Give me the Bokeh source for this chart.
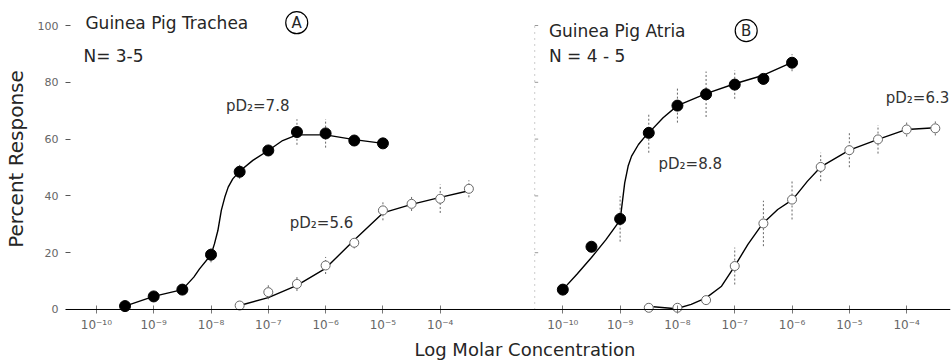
from bokeh.plotting import figure
from bokeh.models import Range1d, FixedTicker, CustomJSTickFormatter, Label, Span, Title
from bokeh.embed import file_html
from bokeh.resources import INLINE

# ---------------- data (log molar concentration, percent response) ----------------
decades = [-10, -9, -8, -7, -6, -5, -4]
y_ticks = [0, 20, 40, 60, 80, 100]

# Panel A: Guinea Pig Trachea
a1_x = [-9.5, -9.0, -8.5, -8.0, -7.5, -7.0, -6.5, -6.0, -5.5, -5.0]
a1_y = [1.2, 4.6, 7.0, 19.3, 48.5, 56.0, 62.5, 62.0, 59.5, 58.5]
a1_err = [0.5, 1.0, 1.5, 2.7, 2.5, 1.5, 4.5, 5.0, 1.5, 1.0]
a1_curve_x = [-9.5, -9.0, -8.5, -8.3, -8.2, -8.0, -7.94, -7.88, -7.82, -7.76, -7.7, -7.62, -7.5, -7.27, -7.0, -6.75, -6.5, -6.0, -5.5, -5.0]
a1_curve_y = [1.2, 4.6, 7.0, 11.4, 14.3, 19.3, 23.1, 27.8, 34.9, 39.5, 43.1, 46.0, 48.7, 52.5, 56.0, 59.5, 61.5, 61.5, 59.8, 58.5]

a2_x = [-7.5, -7.0, -6.5, -6.0, -5.5, -5.0, -4.5, -4.0, -3.5]
a2_y = [1.4, 6.1, 9.0, 15.5, 23.5, 34.9, 37.2, 39.0, 42.5]
a2_err = [0.5, 2.5, 2.5, 3.0, 2.0, 3.5, 2.5, 5.0, 3.0]
a2_curve_x = [-7.5, -7.0, -6.5, -6.0, -5.5, -5.0, -4.5, -4.0, -3.5]
a2_curve_y = [1.4, 4.2, 8.5, 14.5, 24.5, 34.0, 37.0, 39.5, 41.8]

# Panel B: Guinea Pig Atria
b1_x = [-10.0, -9.5, -9.0, -8.5, -8.0, -7.5, -7.0, -6.5, -6.0]
b1_y = [7.0, 22.1, 31.9, 62.2, 71.8, 75.8, 79.2, 81.2, 86.9]
b1_err = [2.0, 2.0, 8.0, 7.0, 6.0, 8.0, 5.0, 2.0, 3.0]
b1_curve_x = [-10.0, -9.75, -9.5, -9.25, -9.0, -8.96, -8.92, -8.86, -8.8, -8.68, -8.57, -8.5, -8.25, -8.0, -7.5, -7.0, -6.5, -6.0]
b1_curve_y = [7.0, 12.5, 18.3, 24.5, 31.5, 38.0, 44.6, 50.5, 54.0, 58.1, 60.8, 62.2, 67.5, 71.8, 76.0, 79.5, 82.5, 87.0]

b2_x = [-8.5, -8.0, -7.5, -7.0, -6.5, -6.0, -5.5, -5.0, -4.5, -4.0, -3.5]
b2_y = [0.6, 0.6, 3.3, 15.3, 30.3, 38.7, 50.2, 56.1, 59.9, 63.4, 63.8]
b2_err = [0.5, 0.5, 1.0, 6.5, 8.0, 7.0, 5.0, 6.0, 5.0, 2.5, 2.5]
b2_curve_x = [-8.42, -8.02, -7.76, -7.5, -7.23, -7.0, -6.77, -6.51, -6.25, -5.99, -5.73, -5.5, -5.0, -4.5, -4.0, -3.5]
b2_curve_y = [0.95, 0.25, 1.8, 4.1, 8.2, 15.3, 22.9, 30.3, 35.2, 38.7, 45.2, 50.2, 56.1, 59.9, 63.4, 64.0]

titles = ["Guinea Pig Trachea", "Guinea Pig Atria"]
n_labels = ["N= 3-5", "N = 4 - 5"]
pd2_labels = ["pD\u2082=7.8", "pD\u2082=5.6", "pD\u2082=8.8", "pD\u2082=6.3"]

# ---------------- layout ----------------
B_OFF = 8.139          # panel B is drawn 8.139 decades to the right of panel A
A_START, A_END = -10.539, 4.904

p = figure(width=952, height=362, output_backend="svg", toolbar_location=None,
           x_range=Range1d(A_START, A_END), y_range=Range1d(-1.41, 107.4),
           min_border_left=62, min_border_right=2, min_border_top=4, min_border_bottom=49)
p.extra_x_ranges = {"B": Range1d(A_START - B_OFF, A_END - B_OFF)}
p.outline_line_color = None
p.grid.visible = False
p.background_fill_color = "white"
p.border_fill_color = "white"

FONT = "DejaVu Sans"
INK = "#262626"

# x axis (ticks for both panels)
p.xaxis.ticker = FixedTicker(ticks=decades + [d + B_OFF for d in decades])
p.xaxis.formatter = CustomJSTickFormatter(args=dict(off=B_OFF), code="""
const sup = {"-": "\u207b", "0": "\u2070", "1": "\u00b9", "2": "\u00b2", "3": "\u00b3",
             "4": "\u2074", "5": "\u2075", "6": "\u2076", "7": "\u2077", "8": "\u2078", "9": "\u2079"};
const e = tick < -3 ? Math.round(tick) : Math.round(tick - off);
return "10" + String(e).split("").map(c => sup[c]).join("");
""")
p.xaxis.axis_line_color = None
p.xaxis.major_tick_in = 8
p.xaxis.major_tick_out = 0
p.xaxis.minor_tick_line_color = None
p.xaxis.major_tick_line_color = "#777"
p.xaxis.major_label_standoff = 4
p.xaxis.major_label_text_font = FONT
p.xaxis.major_label_text_font_size = "12px"
p.xaxis.major_label_text_color = "#666"

# y axis
p.yaxis.ticker = FixedTicker(ticks=y_ticks)
p.yaxis.axis_line_color = None
p.yaxis.major_tick_in = 5
p.yaxis.major_tick_out = 0
p.yaxis.minor_tick_line_color = None
p.yaxis.major_tick_line_color = "#555"
p.yaxis.major_label_standoff = 7
p.yaxis.major_label_text_font = FONT
p.yaxis.major_label_text_font_size = "11px"
p.yaxis.major_label_text_color = "#666"
p.yaxis.axis_label = "Percent Response"
p.yaxis.axis_label_text_font = FONT
p.yaxis.axis_label_text_font_size = "20px"
p.yaxis.axis_label_text_font_style = "normal"
p.yaxis.axis_label_text_color = INK
p.yaxis.axis_label_standoff = 7

# x axis title, placed under both panels
p.add_layout(Title(text="Log Molar Concentration", align="left", offset=349, standoff=4,
                   text_font=FONT, text_font_size="18px", text_font_style="normal",
                   text_color=INK), "below")

# baseline at zero response
p.add_layout(Span(location=0, dimension="width", line_color="black", line_width=1))

# faint left axis of panel B
p.segment(x0=[-10.49], y0=[0], x1=[-10.49], y1=[100], x_range_name="B",
          line_color="#999", line_dash="1 5", line_width=1)
p.segment(x0=[-10.49] * len(y_ticks), y0=y_ticks, x1=[-10.43] * len(y_ticks), y1=y_ticks,
          x_range_name="B", line_color="#999", line_width=1)


def draw(xs, ys, errs, cx, cy, filled, rng):
    kw = {} if rng is None else {"x_range_name": rng}
    p.line(cx, cy, line_color="black", line_width=1.4, **kw)
    p.segment(x0=xs, y0=[y - e for y, e in zip(ys, errs)], x1=xs,
              y1=[y + e for y, e in zip(ys, errs)], line_color="#666", line_width=1,
              line_dash="2 2", **kw)
    if filled:
        p.scatter(xs, ys, marker="circle", size=11, fill_color="black", line_color="black", **kw)
    else:
        p.scatter(xs, ys, marker="circle", size=9, fill_color="white", line_color="#666",
                  line_width=1, **kw)


draw(a1_x, a1_y, a1_err, a1_curve_x, a1_curve_y, True, None)
draw(a2_x, a2_y, a2_err, a2_curve_x, a2_curve_y, False, None)
draw(b1_x, b1_y, b1_err, b1_curve_x, b1_curve_y, True, "B")
draw(b2_x, b2_y, b2_err, b2_curve_x, b2_curve_y, False, "B")


def lab(text, x, y, size, rng=None, align="left", color=INK):
    kw = {} if rng is None else {"x_range_name": rng}
    p.add_layout(Label(x=x, y=y, text=text, text_font=FONT, text_font_size=size,
                       text_color=color, text_align=align, text_baseline="middle", **kw))


# titles
lab(titles[0], -10.191, 101.0, "17px")
lab(n_labels[0], -10.226, 89.1, "17px")
lab(titles[1], -10.243, 98.2, "17px", rng="B")
lab(n_labels[1], -10.243, 89.1, "17px", rng="B")

# circled panel letters
p.scatter([-6.504], [101.0], marker="circle", size=22, fill_color=None, line_color="black", line_width=1.2)
lab("A", -6.504, 101.0, "15px", align="center")
p.scatter([-6.80], [98.2], marker="circle", size=22, fill_color=None, line_color="black",
          line_width=1.2, x_range_name="B")
lab("B", -6.80, 98.2, "15px", rng="B", align="center")

# pD2 annotations
lab(pd2_labels[0], -7.739, 71.5, "15px", color="#333")
lab(pd2_labels[1], -6.626, 30.6, "15px", color="#333")
lab(pd2_labels[2], -8.33, 51.2, "15px", rng="B", color="#333")
lab(pd2_labels[3], -4.365, 74.3, "15px", rng="B", color="#333")

open("out.html", "w").write(file_html(p, INLINE))
